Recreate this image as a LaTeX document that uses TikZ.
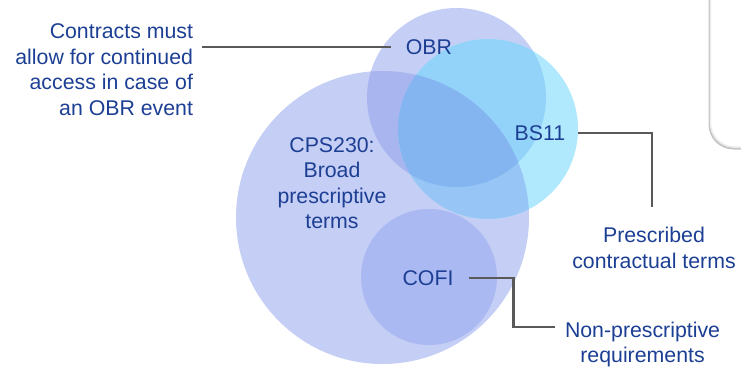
\documentclass[tikz,border=0pt]{standalone}
\usepackage{fontspec}
\setmainfont{Liberation Sans}
\usetikzlibrary{calc}

% Venn fill colours
\definecolor{vennbase}{RGB}{197,206,245}
\definecolor{vennbs}{RGB}{176,233,253}
\definecolor{venncpsobr}{RGB}{169,181,239}
\definecolor{vennbsobr}{RGB}{147,211,250}
\definecolor{vennbscps}{RGB}{151,197,245}
\definecolor{venntriple}{RGB}{133,181,240}
\definecolor{venncofi}{RGB}{171,185,243}
\definecolor{labelblue}{RGB}{28,63,148}
\definecolor{leader}{RGB}{89,89,89}

\tikzset{
  lbl/.style={font=\fontsize{21.3}{25.5}\selectfont, text=labelblue, inner sep=0pt, outer sep=0pt},
  leaderline/.style={draw=leader, line width=2.8pt},
}

\begin{document}
\begin{tikzpicture}[x=1pt, y=-1pt]
  \useasboundingbox (0,0) rectangle (741,372);
  \clip (0,0) rectangle (741,372);

  % panel edge in the upper right corner
  \draw[gray!45, line width=2pt, rounded corners=24] (709.5,-40) rectangle (790,148.5);
  \draw[gray!15, line width=1.4pt, fill=white, rounded corners=24] (710.5,-40) rectangle (790,147);

  % circle outlines
  \def\cpsc{(382.5,217.5) circle[radius=146.5pt]}
  \def\obrc{(456.5,97.5) circle[radius=89.5pt]}
  \def\bsc{(488,129) circle[radius=90pt]}

  \fill[vennbase] \cpsc;
  \fill[vennbase] \obrc;
  \fill[vennbs] \bsc;
  \begin{scope}
    \clip \cpsc; \fill[venncpsobr] \obrc;
  \end{scope}
  \begin{scope}
    \clip \bsc; \fill[vennbsobr] \obrc;
  \end{scope}
  \begin{scope}
    \clip \bsc; \fill[vennbscps] \cpsc;
  \end{scope}
  \begin{scope}
    \clip \bsc; \clip \obrc; \fill[venntriple] \cpsc;
  \end{scope}
  \fill[venncofi] (429,277) circle[radius=68pt];

  % labels
  \node[lbl, align=right, anchor=north east] (contracts) at (193,24)
    {Contracts must\\allow for continued\\access in case of\\an OBR event};
  \node[lbl] (obr) at (429,47) {OBR};
  \node[lbl] (bs) at (540,133) {BS11};
  \node[lbl, align=center, anchor=north] (cps) at (332,137.5)
    {CPS230:\\Broad\\prescriptive\\terms};
  \node[lbl] (cofi) at (428,278) {COFI};
  \node[lbl, align=center, anchor=north] (presc) at (654,227.5)
    {Prescribed\\contractual terms};
  \node[lbl, align=center, anchor=north west] (nonp) at (565,322)
    {Non-prescriptive\\requirements};

  % leader lines
  \draw[leaderline] ([xshift=-15pt]obr.west) -- ($(obr.west -| contracts.east)+(9,0)$);
  \draw[leaderline] ([xshift=13pt]bs.east) -| ($(presc.north)+(-2,-21)$);
  \draw[leaderline] ([xshift=16pt]cofi.east) -- ++(44,0) |- ($(nonp.north west)+(-10,5)$);
\end{tikzpicture}
\end{document}
